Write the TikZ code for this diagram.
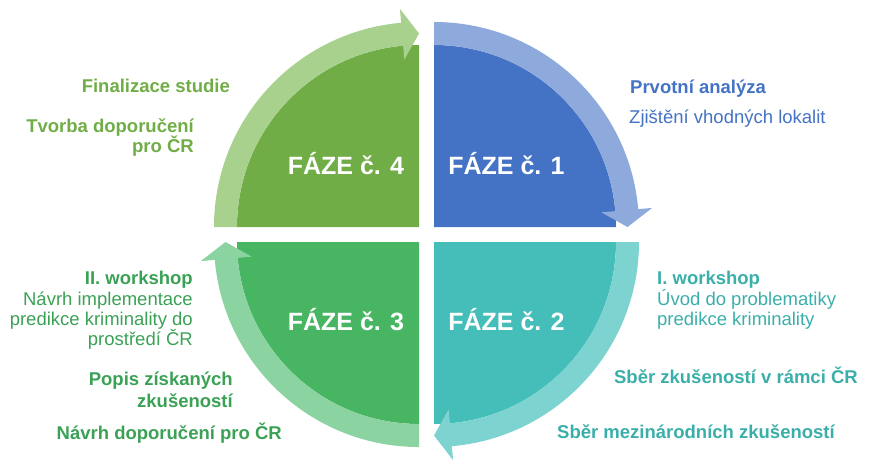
\documentclass[tikz,border=0pt]{standalone}
\usepackage{fontspec}
\setmainfont{Liberation Sans}
\usepackage{tikz}
\usetikzlibrary{calc,positioning}
\definecolor{fazeblue}{HTML}{4472C4}
\definecolor{bandblue}{HTML}{8EA9DB}
\definecolor{fazegreen}{HTML}{70AD47}
\definecolor{bandgreen}{HTML}{A9D18E}
\definecolor{fazemint}{HTML}{48B563}
\definecolor{bandmint}{HTML}{8BD3A0}
\definecolor{textmint}{HTML}{3AA155}
\definecolor{fazeteal}{HTML}{45BDB9}
\definecolor{bandteal}{HTML}{7DD3CF}
\definecolor{textteal}{HTML}{3AAFAA}

\begin{document}
\begin{tikzpicture}[x=1pt,y=1pt,
    faze/.style={font=\fontsize{25}{28}\selectfont\bfseries,text=white,inner sep=0pt,anchor=base},
    head/.style={font=\fontsize{18.5}{20.5}\selectfont\bfseries,inner sep=0pt},
    line/.style={font=\fontsize{18.5}{20.5}\selectfont,inner sep=0pt}]
			\useasboundingbox (-426.5,-237.5) rectangle (450.5,234.5);
			% quadrant corners
			\coordinate (c1) at (7.5,7.5);
			\coordinate (c2) at (7.5,-7.5);
			\coordinate (c3) at (-7.5,-7.5);
			\coordinate (c4) at (-7.5,7.5);
			% phase 1
			\fill[fazeblue] (c1) -- ($(c1)+(90:182)$) arc (90:0:182) -- cycle;
			\fill[bandblue] ($(c1)+(90:182)$) arc (90:5:182) -- ($(c1)+(5:168)$) -- ($(c1)+(0:193.5)$)
				-- ($(c1)+(5:219)$) -- ($(c1)+(5:205)$) arc (5:90:205) -- cycle;
			% phase 2
			\fill[fazeteal] (c2) -- ($(c2)+(0:182)$) arc (0:-90:182) -- cycle;
			\fill[bandteal] ($(c2)+(0:182)$) arc (0:-85:182) -- ($(c2)+(-85:168)$) -- ($(c2)+(-90:193.5)$)
				-- ($(c2)+(-85:219)$) -- ($(c2)+(-85:205)$) arc (-85:0:205) -- cycle;
			% phase 3
			\fill[fazemint] (c3) -- ($(c3)+(270:182)$) arc (270:180:182) -- cycle;
			\fill[bandmint] ($(c3)+(270:182)$) arc (270:185:182) -- ($(c3)+(185:168)$) -- ($(c3)+(180:193.5)$)
				-- ($(c3)+(185:219)$) -- ($(c3)+(185:205)$) arc (185:270:205) -- cycle;
			% phase 4
			\fill[fazegreen] (c4) -- ($(c4)+(180:182)$) arc (180:90:182) -- cycle;
			\fill[bandgreen] ($(c4)+(180:182)$) arc (180:95:182) -- ($(c4)+(95:168)$) -- ($(c4)+(90:193.5)$)
				-- ($(c4)+(95:219)$) -- ($(c4)+(95:205)$) arc (95:180:205) -- cycle;
			% phase labels
			\node[faze] (f1) at (80,60.5) {FÁZE č. 1};
			\node[faze] (f2) at (80,-95.5) {FÁZE č. 2};
			\node[faze] (f3) at (-80.5,-95.5) {FÁZE č. 3};
			\node[faze] (f4) at (-80.5,60.5) {FÁZE č. 4};
			% phase 1 texts
			\node[head,text=fazeblue,anchor=base west] (p1a) at (203.5,141.5) {Prvotní analýza};
			\node[line,text=fazeblue,anchor=base west] (p1b) at (202.5,111.5) {Zjištění vhodných lokalit};
			% phase 2 texts
			\node[head,text=textteal,anchor=base west] (p2a) at (230.5,-49.5) {I. workshop};
			\node[line,text=textteal,anchor=base west] (p2b) at (230.5,-70.5) {Úvod do problematiky};
			\node[line,text=textteal,anchor=base west] (p2c) at (230.5,-90.5) {predikce kriminality};
			\node[head,text=textteal,anchor=base east] (p2d) at (431.5,-148.5) {Sběr zkušeností v rámci ČR};
			\node[head,text=textteal,anchor=base west] (p2e) at (130.5,-203.5) {Sběr mezinárodních zkušeností};
			% phase 3 texts
			\node[head,text=textmint,anchor=base east] (p3a) at (-233.5,-49.5) {II. workshop};
			\node[line,text=textmint,anchor=base east] (p3b) at (-233.5,-70.5) {Návrh implementace};
			\node[line,text=textmint,anchor=base east] (p3c) at (-233.5,-90.5) {predikce kriminality do};
			\node[line,text=textmint,anchor=base east] (p3d) at (-233.5,-110.5) {prostředí ČR};
			\node[head,text=textmint,anchor=base east] (p3e) at (-193.5,-150.5) {Popis získaných};
			\node[head,text=textmint,anchor=base east] (p3f) at (-193.5,-172.5) {zkušeností};
			\node[head,text=textmint,anchor=base east] (p3g) at (-144.5,-204.5) {Návrh doporučení pro ČR};
			% phase 4 texts
			\node[head,text=fazegreen,anchor=base east] (p4a) at (-196.5,142.5) {Finalizace studie};
			\node[head,text=fazegreen,anchor=base east] (p4b) at (-232.5,102.5) {Tvorba doporučení};
			\node[head,text=fazegreen,anchor=base east] (p4c) at (-232.5,82.5) {pro ČR};
		\end{tikzpicture}
\end{document}
